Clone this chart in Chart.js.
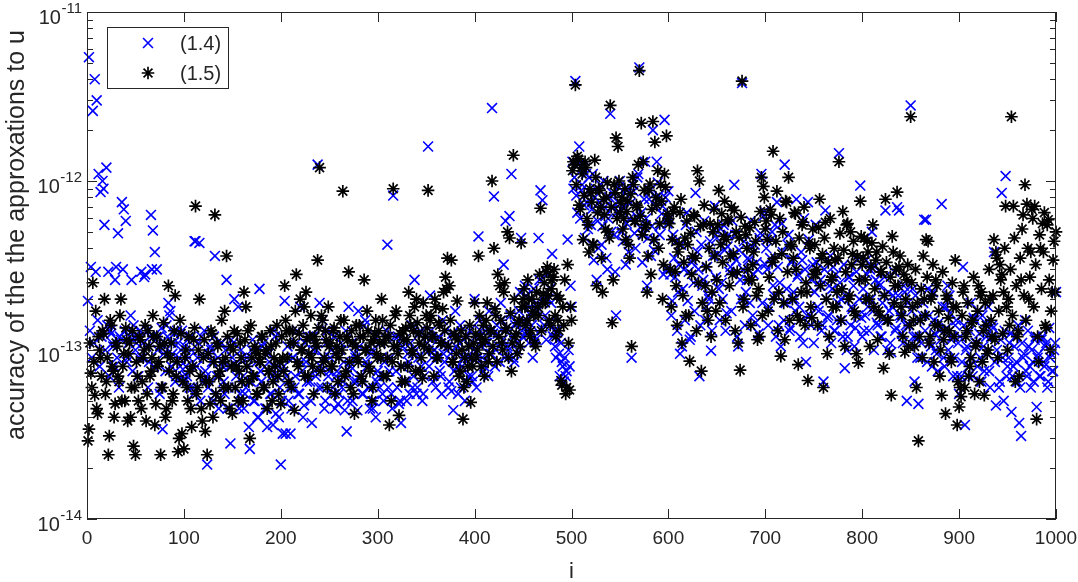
<!DOCTYPE html>
<html>
<head>
<meta charset="utf-8">
<script src="https://cdn.jsdelivr.net/npm/chart.js@4.4.1/dist/chart.umd.min.js"></script>
<style>
html,body{margin:0;padding:0;background:#ffffff;}
#wrap{width:1078px;height:582px;position:relative;}
</style>
</head>
<body>
<div id="wrap"><canvas id="c" width="1078" height="582"></canvas></div>
<script>
// ---------- data ----------
// values at even indices i = 2, 4, ..., 1000 and odd indices i = 1, 3, ..., 999
const xTickValues = [0,100,200,300,400,500,600,700,800,900,1000];
const yTickValues = [1e-14,1e-13,1e-12,1e-11];
const yTickExponents = ['-14','-13','-12','-11'];
const seriesNames = ['(1.4)','(1.5)'];
const xTitle = 'i';
const yTitle = 'accuracy of the the approxations to u';

// series (1.4), blue crosses — even i
const series14Even = [
5.4e-12,3.1e-13,2.6e-12,4e-12,3e-12,1.1e-12,8.6e-13,1e-12,5.5e-13,1.2e-12,2.9e-13,1.3e-13,1.1e-13,8e-14,3.1e-13,4.9e-13,1.2e-13,7.5e-13,6.8e-13,5.8e-13,9e-14,1.2e-13,2.6e-13,1.4e-13,1e-13,
1.2e-13,9e-14,2.9e-13,1.1e-13,2.8e-13,1.3e-13,8.5e-14,6.3e-13,5.1e-13,3.8e-13,3e-13,1.2e-13,6e-14,3.4e-14,1.05e-13,1.4e-13,1.9e-13,1.7e-13,9.5e-14,1.25e-13,7e-14,1.1e-13,8e-14,1.3e-13,6.5e-14,
8e-14,1.15e-13,6e-14,1e-13,5.5e-14,4.4e-13,9e-14,4.3e-13,1.2e-13,6.5e-14,7.5e-14,2.1e-14,9.5e-14,1e-13,5e-14,3.6e-13,7e-14,4.5e-14,1.1e-13,8e-14,5.5e-14,2.6e-13,6e-14,2.8e-14,9e-14,
2e-13,7e-14,1.8e-13,5.5e-14,9e-14,4.5e-14,6e-14,8e-14,2.6e-14,1e-13,5e-14,7e-14,4e-14,2.3e-13,6.5e-14,1.1e-13,4.5e-14,3.5e-14,8.5e-14,5.5e-14,3.6e-14,1.2e-13,7e-14,4e-14,2.1e-14,
3.2e-14,1.95e-13,7e-14,5e-14,3.2e-14,9e-14,6e-14,1.1e-13,5.5e-14,1.8e-13,7.5e-14,4.7e-14,8.5e-14,1.2e-13,6.5e-14,3.7e-14,1e-13,7e-14,1.25e-12,1.9e-13,6e-14,9e-14,5e-14,1.3e-13,7.5e-14,
1e-13,6e-14,4.5e-14,7.5e-14,5.5e-14,1.1e-13,6.5e-14,4.4e-14,3.3e-14,1.8e-13,8e-14,5e-14,9.5e-14,6.5e-14,1.7e-13,7e-14,5.5e-14,1.4e-13,8.5e-14,6e-14,4.5e-14,1e-13,5e-14,4e-14,7.5e-14,
6e-14,9e-14,5e-14,7e-14,4.2e-13,7.5e-14,5.5e-14,8.2e-13,1.2e-13,6e-14,4.8e-14,3.7e-14,1.05e-13,6.5e-14,5e-14,8.5e-14,1.1e-13,6e-14,2.6e-13,5.5e-14,9e-14,1.3e-13,5e-14,7e-14,1.2e-13,
1.6e-12,2.1e-13,9e-14,1e-13,6e-14,1.15e-13,7.5e-14,5.5e-14,9.5e-14,1.3e-13,1.05e-13,6.5e-14,5.7e-14,4.4e-14,1.7e-13,8e-14,1.1e-13,6e-14,9e-14,5e-14,1.2e-13,7e-14,1.05e-13,6.5e-14,2e-13,
6e-14,4.7e-13,1.3e-13,9e-14,8e-14,1.1e-13,7e-14,1.3e-13,2.7e-12,8.1e-13,1e-13,1.25e-13,8.5e-14,1.5e-13,3.2e-13,5.8e-13,1.05e-13,6.2e-13,1.1e-12,9e-14,1.4e-13,1e-13,1.7e-13,4.6e-13,1.2e-13,
2.4e-13,1.3e-13,1.1e-13,1.6e-13,9e-14,1.2e-13,1.9e-13,4.6e-13,8.8e-13,7.7e-13,1.4e-13,1.15e-13,2e-13,2.3e-13,3.7e-13,1.3e-13,9e-14,1.15e-13,7e-14,8.5e-14,6.5e-14,7e-14,4.5e-13,8e-14,1.8e-13,
9e-13,3.9e-12,6.5e-13,1.6e-12,8.8e-13,1.2e-12,4.6e-13,7.5e-13,1.05e-12,5.5e-13,1.1e-12,8e-13,2.6e-13,4e-13,9.5e-13,5.4e-13,7e-13,3.5e-13,6e-13,2.5e-12,8.5e-13,4.8e-13,1.6e-13,7.5e-13,1e-12,
5e-13,7e-13,3.2e-13,9e-13,6e-13,9e-14,8.7e-13,4e-13,1.05e-12,4.7e-12,6.5e-13,4.8e-13,1.3e-12,2.4e-13,7.8e-13,3.6e-13,2e-12,4.5e-13,1.3e-12,8.2e-13,5.5e-13,7.1e-13,2.3e-12,3e-13,8.7e-13,
2.8e-13,1.95e-13,3.5e-13,4.4e-13,2.2e-13,9.5e-14,1.05e-13,3e-13,5.5e-13,1.95e-13,1.15e-13,3.3e-13,2.5e-13,8.5e-13,3.8e-13,7e-14,4.2e-13,2.6e-13,1.5e-13,3.1e-13,2e-13,9.9e-14,3.6e-13,7.1e-13,4.6e-13,
2.3e-13,5.2e-13,2e-13,3.9e-13,1.65e-13,4.8e-13,3.1e-13,5.8e-13,9.5e-13,3.4e-13,1.05e-13,2.6e-13,3.8e-12,4.4e-13,2.2e-13,3.5e-13,1.9e-13,4.1e-13,2.8e-13,1.45e-13,3e-13,4.6e-13,1.1e-12,6.2e-13,3.2e-13,
3e-13,1.8e-13,4.5e-13,2.4e-13,5.5e-13,7.5e-13,1.4e-13,1.05e-13,3.8e-13,1.25e-12,2.3e-13,4.8e-13,1.35e-13,3.4e-13,2e-13,7.8e-13,2.8e-13,1.2e-13,3.4e-13,6e-13,8.5e-14,7.5e-13,1.6e-13,2.6e-13,1.1e-13,
5.5e-13,1.8e-13,2.4e-13,1.3e-13,6.5e-14,6.7e-13,1.55e-13,2.4e-13,1.1e-13,3.1e-13,1.3e-13,1.5e-13,1.46e-12,2e-13,1.2e-13,7.8e-14,1e-13,2.7e-13,1.4e-13,1.75e-13,1.05e-13,2.9e-13,1.6e-13,9.4e-13,1.2e-13,
1.3e-13,3.4e-13,1.8e-13,3e-13,5e-13,1e-13,2.6e-13,1.4e-13,2.4e-13,1.2e-13,2.1e-13,6.7e-13,1e-13,1.7e-13,9.7e-14,2.1e-13,1.3e-13,7e-13,6.7e-13,1.55e-13,1.1e-13,2.2e-13,5e-14,1.4e-13,2.8e-12,
2.3e-13,6.5e-14,1.2e-13,4.8e-14,9e-14,1.6e-13,5.9e-13,5.9e-13,2.3e-13,1.1e-13,8e-14,1.5e-13,1e-13,7.5e-14,1.3e-13,7.3e-13,9e-14,1.8e-13,2.4e-13,2.1e-13,1.15e-13,7e-14,1.4e-13,7e-14,5.5e-14,
7e-14,3.1e-13,3.6e-14,1.05e-13,8e-14,1.9e-13,7e-14,1.5e-13,1.1e-13,1.7e-13,9e-14,1.6e-13,7.5e-14,1.2e-13,1.8e-13,6e-14,1.4e-13,3.8e-13,4.7e-14,9e-14,6.5e-14,8.5e-13,5e-14,1.07e-12,8e-14,
1.1e-13,4.3e-14,8e-14,1.2e-13,6.5e-14,3.7e-14,3.1e-14,9e-14,1.5e-13,7e-14,1.05e-13,6e-14,8.5e-14,1.15e-13,4.6e-14,9.5e-14,7e-14,1.2e-13,8e-14,1.1e-13,6.5e-14,9e-14,7.5e-14,1e-13,2.2e-13
];

// series (1.4), blue crosses — odd i
const series14Odd = [
1.95e-13,1.3e-13,9e-14,1.1e-13,2.9e-13,1.5e-13,8e-14,1.2e-13,9e-13,1e-13,1.4e-13,7e-14,1.25e-13,1.05e-13,2.6e-13,9e-14,6e-14,1.15e-13,3e-13,1.3e-13,8.5e-14,1.1e-13,1.6e-13,7.5e-14,1.2e-13,
1.1e-13,7e-14,1.3e-13,9e-14,2.7e-13,1.05e-13,6e-14,1.2e-13,3e-13,8e-14,1.15e-13,1e-13,5.5e-14,1.35e-13,9.5e-14,7.5e-14,1.2e-13,1.6e-13,8e-14,1.1e-13,6.5e-14,1.3e-13,9e-14,1e-13,7e-14,
1.05e-13,7e-14,9e-14,1.2e-13,6e-14,4.4e-13,8e-14,1.1e-13,5e-14,9.5e-14,1.3e-13,7e-14,6e-14,1.05e-13,8.5e-14,1.2e-13,5.5e-14,9e-14,7.5e-14,1.1e-13,6.5e-14,1e-13,4.5e-14,8e-14,1.15e-13,
1.1e-13,6e-14,8e-14,4.5e-14,1e-13,7e-14,5.5e-14,9e-14,3.5e-14,6.5e-14,1.15e-13,5e-14,8.5e-14,4e-14,7.5e-14,1.05e-13,6e-14,4.5e-14,9.5e-14,5.5e-14,7e-14,1.3e-13,4.2e-14,8e-14,6e-14,
5e-14,8e-14,3.2e-14,1.05e-13,6e-14,4.5e-14,9e-14,7e-14,1.3e-13,5.5e-14,8.5e-14,4e-14,1.1e-13,6.5e-14,9.5e-14,5e-14,1.2e-13,7.5e-14,1e-13,6e-14,8e-14,1.5e-13,4.5e-14,1.1e-13,7e-14,
9e-14,5.5e-14,1.2e-13,7e-14,4.8e-14,1e-13,6e-14,8.5e-14,1.3e-13,5e-14,7.5e-14,1.1e-13,6.5e-14,9e-14,4.4e-14,1.05e-13,7e-14,5.5e-14,1.5e-13,8e-14,6e-14,9.5e-14,4.5e-14,1.2e-13,6.5e-14,
7e-14,1.1e-13,5.5e-14,8.5e-14,1.3e-13,6e-14,9e-14,4.5e-14,1.05e-13,7.5e-14,1.2e-13,5e-14,8e-14,1.15e-13,6.5e-14,9.5e-14,5.5e-14,1.4e-13,7e-14,1e-13,6e-14,1.25e-13,8e-14,5.5e-14,1e-13,
1.1e-13,8e-14,1.3e-13,6.5e-14,1e-13,9e-14,1.2e-13,7e-14,1.5e-13,8.5e-14,1.1e-13,6e-14,9.5e-14,1.25e-13,7.5e-14,1.05e-13,5.5e-14,1.4e-13,8e-14,1.15e-13,6.5e-14,9e-14,1.3e-13,7e-14,1e-13,
1.2e-13,9e-14,1.5e-13,1.05e-13,7.5e-14,1.3e-13,1.1e-13,1.7e-13,9.5e-14,1.25e-13,8e-14,1.4e-13,1.05e-13,1.9e-13,1.15e-13,9e-14,1.35e-13,1e-13,1.6e-13,1.2e-13,8.5e-14,1.45e-13,1.1e-13,2.2e-13,1.3e-13,
1.5e-13,2.1e-13,1.25e-13,1.8e-13,1.4e-13,2.3e-13,1.15e-13,1.7e-13,2.6e-13,1.35e-13,2e-13,1.6e-13,2.8e-13,1.45e-13,1.9e-13,1.2e-13,1.05e-13,1.3e-13,9.5e-14,1.1e-13,8e-14,9e-14,7.5e-14,1e-13,2.4e-13,
1.3e-12,1.05e-12,8.2e-13,1.25e-12,6e-13,9.5e-13,7.2e-13,1.1e-12,5.2e-13,8.5e-13,6.8e-13,3.4e-13,9e-13,5.8e-13,7.5e-13,4.2e-13,1e-12,6.2e-13,3e-13,8e-13,5e-13,7e-13,2.9e-13,6.5e-13,9.2e-13,
6.8e-13,4.4e-13,8.5e-13,5.6e-13,3.8e-13,7.4e-13,9.5e-13,4.9e-13,6.2e-13,1.1e-12,5.3e-13,3.3e-13,7.8e-13,6e-13,4.6e-13,8.8e-13,5.4e-13,3.9e-13,7e-13,9.8e-13,4.8e-13,6.4e-13,2.8e-13,8e-13,5.6e-13,
6e-13,1.6e-13,4.8e-13,2.7e-13,1.3e-13,3.2e-13,4.2e-13,2.3e-13,1.5e-13,6.5e-13,2.9e-13,1.2e-13,3.4e-13,1.7e-13,5e-13,3e-13,1.4e-13,2.4e-13,5.8e-13,1.8e-13,2.1e-13,4.4e-13,1.3e-13,5.2e-13,2.7e-13,
3.7e-13,1.5e-13,2.5e-13,5.5e-13,1.3e-13,4.1e-13,2.9e-13,1.7e-13,3.6e-13,4.8e-13,1.2e-13,3.9e-13,2e-13,3e-13,1.4e-13,2.6e-13,3.4e-13,5.8e-13,1.6e-13,4.2e-13,3.3e-13,1.25e-13,4.9e-13,1.9e-13,6.6e-13,
4e-13,1.4e-13,3.5e-13,5e-13,2.1e-13,1.2e-13,3.1e-13,2.5e-13,5.6e-13,1.5e-13,1.9e-13,4.2e-13,1.3e-13,3.3e-13,2.2e-13,1.7e-13,2.7e-13,1.8e-13,3.8e-13,1.1e-13,3e-13,1.6e-13,4.5e-13,1.4e-13,3.2e-13,
2.2e-13,3.3e-13,1.7e-13,2.6e-13,1.4e-13,3e-13,2e-13,1.6e-13,3.6e-13,2.3e-13,1.3e-13,2.8e-13,1.9e-13,2.5e-13,1.5e-13,3.2e-13,2.1e-13,1.2e-13,2.7e-13,1.8e-13,2.4e-13,1.35e-13,3.4e-13,2e-13,1.55e-13,
2.3e-13,1.6e-13,2.8e-13,1.3e-13,2e-13,1.7e-13,3.1e-13,1.45e-13,2.5e-13,1.2e-13,1.9e-13,2.7e-13,1.5e-13,2.2e-13,1.1e-13,1.8e-13,2.9e-13,1.35e-13,2.1e-13,1.6e-13,1.25e-13,2.4e-13,1.4e-13,1.9e-13,1.05e-13,
1.7e-13,1.2e-13,2.1e-13,9e-14,1.5e-13,1.1e-13,1.9e-13,1.3e-13,8.5e-14,1.6e-13,1.05e-13,2.2e-13,1.25e-13,9.5e-14,1.45e-13,1.15e-13,1.8e-13,8e-14,1.35e-13,1e-13,1.65e-13,1.2e-13,9e-14,1.5e-13,1.1e-13,
1.2e-13,8.5e-14,1.4e-13,1e-13,7e-14,1.3e-13,9e-14,1.55e-13,1.1e-13,8e-14,1.25e-13,6.5e-14,1.05e-13,1.45e-13,9.5e-14,7.5e-14,1.2e-13,1.35e-13,8.5e-14,1e-13,6e-14,1.15e-13,9e-14,1.3e-13,7e-14,
9e-14,1.25e-13,7e-14,1.05e-13,8.5e-14,1.4e-13,6e-14,1.1e-13,9.5e-14,7.5e-14,1.3e-13,8e-14,1e-13,6.5e-14,1.2e-13,9e-14,7e-14,1.15e-13,8.5e-14,1.05e-13,6e-14,1.35e-13,9.5e-14,7.5e-14,1.1e-13
];

// series (1.5), black asterisks — even i
const series15Even = [
3.4e-14,7.3e-14,2.5e-13,5.4e-14,4.5e-14,1.2e-13,9e-14,1.3e-13,2e-13,6.5e-14,2.4e-14,1.5e-13,8e-14,4e-14,1.1e-13,7e-14,1.6e-13,5e-14,9.5e-14,1.35e-13,3.8e-14,1.1e-13,6e-14,2.7e-14,2.4e-14,
7e-14,1.2e-13,4.5e-14,9e-14,1.4e-13,5.5e-14,1.05e-13,7.5e-14,1.6e-13,3.6e-14,1.2e-13,8.5e-14,2.4e-14,6e-14,1.1e-13,4.5e-14,2.4e-13,9e-14,5e-14,1.3e-13,7e-14,2.5e-14,1.5e-13,3.2e-14,2.6e-14,
1e-13,5e-14,7.5e-14,3.5e-14,1.15e-13,7.1e-13,6e-14,2e-13,4.5e-14,9e-14,3.3e-14,2.4e-14,6.5e-14,1.3e-13,4e-14,6.3e-13,1.1e-13,7e-14,5e-14,8.5e-14,1.7e-13,3.6e-13,6e-14,1.05e-13,4.2e-14,
1.3e-13,8e-14,5e-14,1.1e-13,6.5e-14,2.2e-13,1.8e-13,1.3e-13,3e-14,9e-14,7e-14,1e-13,5.5e-14,8.5e-14,1.2e-13,6e-14,9.5e-14,4.5e-14,7.5e-14,1.05e-13,6.5e-14,8e-14,1.4e-13,5.5e-14,4.8e-14,
9e-14,2.4e-13,1.3e-13,6.5e-14,1.1e-13,1.3e-13,4.4e-14,2.8e-13,8e-14,2e-13,1e-13,1.8e-13,2.2e-13,7e-14,1.2e-13,9e-14,5.5e-14,1.1e-13,3.4e-13,1.2e-12,1.6e-13,8.5e-14,1.3e-13,6e-14,1.05e-13,
8e-14,1.3e-13,5.5e-14,1.05e-13,9e-14,1.5e-13,8.7e-13,7e-14,1.2e-13,2.9e-13,6e-14,1.1e-13,4.2e-14,1.4e-13,8.5e-14,1.2e-13,6.5e-14,2.6e-13,1e-13,1.3e-13,7.5e-14,5e-14,1.15e-13,1.5e-13,9e-14,
1.1e-13,2e-13,7e-14,1.2e-13,9e-14,3.6e-14,5e-14,9e-13,1.6e-13,1.05e-13,4.1e-14,8e-14,1.3e-13,6.5e-14,1.15e-13,2.2e-13,1.4e-13,9.5e-14,1.8e-13,2e-13,1.25e-13,7.5e-14,6.8e-14,1.05e-13,1.6e-13,
8.8e-13,1.5e-13,1.2e-13,7e-14,1.8e-13,9e-14,1.4e-13,1.1e-13,2.2e-13,2.7e-13,3.5e-13,2.4e-13,3.4e-13,8.5e-14,1.2e-13,1.95e-13,7e-14,1.3e-13,3.9e-14,9e-14,6.5e-14,1.05e-13,4.9e-14,8e-14,1.9e-13,
9e-14,3.6e-13,1.2e-13,1.1e-13,7e-14,1.5e-13,8.5e-14,1.3e-13,1e-12,4e-13,1.6e-13,2.8e-13,2.4e-13,1.1e-13,2.2e-13,1.3e-13,5e-13,4.6e-13,7.5e-14,1.42e-12,1.2e-13,9.5e-14,1.5e-13,4.3e-13,2e-13,
1.8e-13,1.5e-13,2e-13,1.3e-13,1.7e-13,1.1e-13,2.2e-13,1.6e-13,6.9e-13,1.9e-13,2.5e-13,2.9e-13,2.1e-13,1.4e-13,2.6e-13,3e-13,1.2e-13,1.5e-13,2e-13,6.2e-14,1.4e-13,5.5e-14,3.2e-13,5.8e-14,1.5e-13,
1.3e-12,3.7e-12,1.4e-12,7.2e-13,1.2e-12,4.5e-13,1.3e-12,6e-13,3.8e-13,8.5e-13,4.2e-13,1.33e-12,2.4e-13,9e-13,7e-13,2.2e-13,6.3e-13,8e-13,5e-13,2.8e-12,1.45e-13,9.5e-13,1.8e-12,1.6e-12,6.5e-13,
8e-13,6e-13,4.5e-13,7.6e-13,3.5e-13,1.05e-13,9.5e-13,5.8e-13,7e-13,4.5e-12,2.2e-12,1.3e-12,5.3e-13,2.2e-13,8.8e-13,2.8e-13,2.25e-12,1.7e-12,7.2e-13,4e-13,9.5e-13,2e-13,1.1e-12,1.85e-12,6e-13,
3e-13,4.5e-13,7e-13,2.4e-13,3.8e-13,6.5e-13,1.1e-13,3.3e-13,1.6e-13,4.2e-13,8.6e-14,2.8e-13,6.3e-13,3.5e-13,1.15e-12,1e-12,7.5e-14,5.5e-13,2.4e-13,1.7e-13,4e-13,1.2e-13,5e-13,3.6e-13,2.6e-13,
8.8e-13,4.2e-13,3.3e-13,7.6e-13,4.5e-13,5.8e-13,3.6e-13,2.8e-13,6.7e-13,5e-13,1.1e-13,7.6e-14,3.9e-12,2e-13,4.8e-13,3e-13,5.3e-13,2.6e-13,3.8e-13,4.4e-13,1.15e-13,1.2e-13,1.05e-12,9.3e-13,5.2e-13,
4.5e-13,2.7e-13,6.3e-13,1.5e-12,3.5e-13,8.7e-13,2.2e-13,9.2e-14,5e-13,1.15e-13,7.5e-13,1.05e-12,4.2e-13,2e-13,6.5e-13,3e-13,8.2e-14,1.5e-13,5.5e-13,7e-13,2.5e-13,6.6e-14,4e-13,1.55e-13,2.8e-13,
2.8e-13,1.4e-13,7.8e-13,3.5e-13,6e-14,5.7e-13,9.5e-14,1.2e-13,2.6e-13,1.8e-13,3.4e-13,2.2e-13,1.3e-12,1.5e-13,6.6e-13,1.05e-13,5.5e-13,2e-13,5e-13,3.7e-13,1.7e-13,9.5e-14,8.4e-14,7.6e-13,3.2e-13,
4.6e-13,2e-13,3.8e-13,1.05e-13,4.3e-13,1.8e-13,3.4e-13,1.15e-13,1.6e-13,2.9e-13,7.8e-14,7.8e-13,1.5e-13,9.5e-14,5.4e-14,3.8e-13,2.4e-13,8.6e-13,3.1e-13,1.8e-13,1.2e-13,9.7e-14,2.6e-13,1.05e-13,2.4e-12,
1.8e-13,1.05e-13,6e-14,2.9e-14,1.5e-13,9e-14,2e-13,4.5e-13,4.4e-13,1.2e-13,2.1e-13,8.5e-14,2.6e-13,1.4e-13,7e-14,5.4e-14,1.15e-13,4.2e-14,2e-13,1.3e-13,8.5e-14,1.8e-13,3.4e-13,3.6e-14,4.6e-14,
5.3e-14,2.2e-13,6e-14,1.3e-13,7e-14,9e-14,1.5e-13,5.5e-14,1.1e-13,2.4e-13,2.1e-13,8.5e-14,5.4e-14,1.4e-13,1e-13,2e-13,1.2e-13,4.5e-13,3.8e-13,9e-14,3.2e-13,2.8e-13,2.2e-13,7.1e-13,1e-13,
1.4e-13,2.4e-12,7.1e-13,6.5e-14,1.2e-13,7e-14,2.6e-13,6.3e-13,9.5e-13,7.3e-13,2e-13,3.8e-13,6e-13,7.1e-13,3.9e-14,8.5e-14,4e-13,5.6e-13,6.5e-13,1.35e-13,5.9e-13,1e-13,2.2e-13,4.4e-13,5e-13
];

// series (1.5), black asterisks — odd i
const series15Odd = [
2.9e-14,1.1e-13,6e-14,8.5e-14,1.7e-13,4.2e-14,1e-13,7e-14,1.25e-13,5.5e-14,9e-14,3.1e-14,1.4e-13,7.5e-14,4.8e-14,1.05e-13,6.5e-14,2e-13,8e-14,5e-14,1.15e-13,9.5e-14,4e-14,1.3e-13,6e-14,
8.5e-14,5e-14,1.15e-13,6.5e-14,1e-13,3.8e-14,1.3e-13,7e-14,9e-14,1.2e-13,4.8e-14,8e-14,1.05e-13,6e-14,1.45e-13,4e-14,9.5e-14,7.5e-14,1.1e-13,5.5e-14,2.1e-13,8.5e-14,3e-14,1.25e-13,6.5e-14,
9e-14,6e-14,1.2e-13,4.5e-14,8e-14,1.35e-13,5.5e-14,1e-13,7e-14,3.8e-14,1.15e-13,6.5e-14,9.5e-14,4.8e-14,1.25e-13,8.5e-14,5.5e-14,1.05e-13,7.5e-14,1.5e-13,6e-14,9e-14,1.2e-13,4.5e-14,8e-14,
1e-13,6e-14,1.25e-13,7.5e-14,9e-14,5e-14,1.15e-13,8e-14,6.5e-14,1.4e-13,7e-14,1.05e-13,5.5e-14,9.5e-14,8.5e-14,1.2e-13,6e-14,1e-13,7.5e-14,1.3e-13,5e-14,9e-14,1.1e-13,7e-14,8.5e-14,
1.2e-13,7.5e-14,1.5e-13,9e-14,1.3e-13,6e-14,1.1e-13,1.7e-13,8.5e-14,1.25e-13,1e-13,1.4e-13,7e-14,1.15e-13,9.5e-14,1.6e-13,8e-14,1.2e-13,1.05e-13,1.35e-13,7.5e-14,1.5e-13,9e-14,1.15e-13,1.8e-13,
1.1e-13,8e-14,1.35e-13,9.5e-14,6.5e-14,1.2e-13,1e-13,1.5e-13,7.5e-14,1.15e-13,8.5e-14,1.3e-13,5.5e-14,1.05e-13,9e-14,1.4e-13,7e-14,1.2e-13,1e-13,1.7e-13,8e-14,1.1e-13,6e-14,1.25e-13,9.5e-14,
1.3e-13,9e-14,1.5e-13,1.1e-13,7e-14,1.2e-13,1.4e-13,8.5e-14,1.05e-13,1.7e-13,9.5e-14,1.25e-13,6.5e-14,1.15e-13,1.35e-13,8e-14,1.6e-13,1e-13,1.3e-13,7.5e-14,1.45e-13,1.1e-13,9e-14,1.9e-13,1.2e-13,
1.35e-13,1e-13,1.6e-13,1.2e-13,2e-13,9e-14,1.45e-13,1.1e-13,1.75e-13,1.3e-13,2.3e-13,1.05e-13,1.5e-13,8.5e-14,1.25e-13,9.5e-14,1.15e-13,7.5e-14,1e-13,6e-14,1.2e-13,8e-14,1.4e-13,9e-14,1.1e-13,
1.25e-13,1e-13,1.6e-13,8e-14,1.4e-13,1.15e-13,1.9e-13,9.5e-14,1.3e-13,1.05e-13,1.75e-13,8.5e-14,1.2e-13,1.5e-13,1e-13,2.5e-13,1.35e-13,9e-14,1.65e-13,1.1e-13,2e-13,1.25e-13,1.45e-13,1.05e-13,1.8e-13,
2.3e-13,1.4e-13,2.6e-13,1.2e-13,2e-13,1.6e-13,1.05e-13,1.8e-13,2.8e-13,1.3e-13,2.15e-13,1.9e-13,3.1e-13,1.5e-13,2.3e-13,2.7e-13,1.6e-13,2.1e-13,1.3e-13,6.6e-14,1.8e-13,2.6e-13,6e-14,1.1e-13,1.8e-13,
1.15e-12,1.25e-12,9.5e-13,1.35e-12,6.8e-13,1.1e-12,8.2e-13,1.2e-12,5.5e-13,9e-13,7.5e-13,4.2e-13,1.05e-12,6.5e-13,8.8e-13,3.5e-13,7.8e-13,5.2e-13,9.8e-13,4.6e-13,7e-13,2.6e-13,8.5e-13,6e-13,1e-12,
7.4e-13,5.2e-13,9e-13,6.6e-13,4.2e-13,8.4e-13,1.05e-12,5.8e-13,7.2e-13,1.25e-12,6.2e-13,4.8e-13,8.8e-13,5.5e-13,3.6e-13,9.6e-13,6.8e-13,4.5e-13,8e-13,1.15e-12,5.6e-13,7.6e-13,3.2e-13,9.2e-13,6.4e-13,
5.6e-13,1.8e-13,6.6e-13,2.9e-13,1.4e-13,4.2e-13,7.8e-13,2.1e-13,4.6e-13,5.8e-13,1.6e-13,4.9e-13,3.6e-13,6.2e-13,1.3e-13,2.5e-13,5.4e-13,1.9e-13,7.2e-13,3.1e-13,1.5e-13,5.6e-13,2.2e-13,6.8e-13,1.7e-13,
5.5e-13,1.9e-13,6.4e-13,4.7e-13,1.5e-13,5.9e-13,2.4e-13,7e-13,3.7e-13,1.3e-13,2.9e-13,4.6e-13,6.1e-13,1.8e-13,5.4e-13,4e-13,2.6e-13,1.4e-13,3.2e-13,5.7e-13,2.1e-13,2.3e-13,6.6e-13,1.6e-13,8e-13,
5.8e-13,1.7e-13,6.8e-13,3.3e-13,2e-13,4.4e-13,1.3e-13,6e-13,3.7e-13,1.9e-13,7.6e-13,2.9e-13,1.5e-13,4.1e-13,3.5e-13,6.4e-13,1.6e-13,4.6e-13,2.2e-13,5.7e-13,1.4e-13,2.2e-13,4.3e-13,1.8e-13,5.2e-13,
4.2e-13,3e-13,5.3e-13,2.4e-13,3.7e-13,4.6e-13,2e-13,3.3e-13,6e-13,2.7e-13,4e-13,1.8e-13,3.5e-13,4.9e-13,2.3e-13,3.9e-13,2.9e-13,5.6e-13,2.1e-13,3.2e-13,4.4e-13,1.6e-13,3.6e-13,2.6e-13,4.7e-13,
3.5e-13,2.6e-13,4.4e-13,2e-13,3.1e-13,5.5e-13,2.3e-13,3.8e-13,1.7e-13,2.9e-13,4.1e-13,2.1e-13,3.3e-13,1.5e-13,2.7e-13,4.7e-13,1.9e-13,3e-13,2.4e-13,3.6e-13,1.6e-13,2.8e-13,2e-13,3.2e-13,1.4e-13,
2.5e-13,1.5e-13,3e-13,1.9e-13,1.2e-13,2.3e-13,3.6e-13,1.6e-13,2.7e-13,1.1e-13,2e-13,3.2e-13,1.4e-13,2.4e-13,1.7e-13,1e-13,2.9e-13,1.3e-13,2.1e-13,1.55e-13,9e-14,2.5e-13,1.2e-13,1.8e-13,6.5e-14,
6e-14,1.6e-13,2.4e-13,1.2e-13,1.9e-13,8e-14,1.45e-13,2.7e-13,1.05e-13,1.7e-13,6.5e-14,2.2e-13,1.3e-13,1.9e-13,9.5e-14,3e-13,1.5e-13,2.1e-13,1.15e-13,3.5e-13,1.7e-13,2.6e-13,1.25e-13,4e-13,1.8e-13,
2e-13,3e-13,1.6e-13,4.6e-13,2.4e-13,1.3e-13,3.5e-13,5.2e-13,2.1e-13,1.5e-13,4e-13,2.7e-13,6.8e-13,1.8e-13,3.2e-13,1.2e-13,4.8e-13,2.3e-13,3.8e-13,1.4e-13,5.5e-13,2.6e-13,1.7e-13,3.4e-13,2.2e-13
];

// ---------- chart ----------
const FONT = '"Liberation Sans", Arial, Helvetica, sans-serif';
const AXIS_COLOR = '#262626';
const toPoints = (even, odd) => {
  const pts = [];
  odd.forEach((v, k) => pts.push({ x: 2 * k + 1, y: v }));
  even.forEach((v, k) => pts.push({ x: 2 * k + 2, y: v }));
  return pts.sort((p, q) => p.x - q.x);
};

const matlabAxes = {
  id: 'matlabAxes',
  afterDatasetsDraw(chart) {
    const ctx = chart.ctx;
    const a = chart.chartArea;
    const xs = chart.scales.x, ys = chart.scales.y;
    ctx.save();
    ctx.strokeStyle = AXIS_COLOR;
    ctx.lineWidth = 1;
    // box
    ctx.strokeRect(Math.round(a.left) + 0.5, Math.round(a.top) + 0.5,
                   Math.round(a.right - a.left) - 1, Math.round(a.bottom - a.top) - 1);
    ctx.beginPath();
    // x ticks (bottom and top, inward)
    xTickValues.forEach(v => {
      const px = Math.round(xs.getPixelForValue(v)) + 0.5;
      ctx.moveTo(px, a.bottom); ctx.lineTo(px, a.bottom - 10);
      ctx.moveTo(px, a.top); ctx.lineTo(px, a.top + 10);
    });
    // y ticks, major + minor (left and right, inward)
    yTickValues.forEach((v, k) => {
      const py = Math.round(ys.getPixelForValue(v)) + 0.5;
      ctx.moveTo(a.left, py); ctx.lineTo(a.left + 10, py);
      ctx.moveTo(a.right, py); ctx.lineTo(a.right - 10, py);
      if (k < yTickValues.length - 1) {
        for (let m = 2; m <= 9; m++) {
          const pm = Math.round(ys.getPixelForValue(v * m)) + 0.5;
          ctx.moveTo(a.left, pm); ctx.lineTo(a.left + 6, pm);
          ctx.moveTo(a.right, pm); ctx.lineTo(a.right - 6, pm);
        }
      }
    });
    ctx.stroke();

    // y tick labels 10^n
    ctx.fillStyle = AXIS_COLOR;
    yTickValues.forEach((v, k) => {
      const py = ys.getPixelForValue(v);
      ctx.font = '15px ' + FONT;
      const sup = yTickExponents[k];
      const supW = ctx.measureText(sup).width;
      const right = a.left - 5;
      ctx.textAlign = 'left'; ctx.textBaseline = 'alphabetic';
      ctx.fillText(sup, right - supW, py + 1);
      ctx.font = '20px ' + FONT;
      ctx.textAlign = 'right';
      ctx.fillText('10', right - supW - 0.5, py + 12);
    });

    // y title
    ctx.save();
    ctx.translate(17, 235);
    ctx.rotate(-Math.PI / 2);
    ctx.font = '25px ' + FONT;
    ctx.textAlign = 'center'; ctx.textBaseline = 'middle';
    ctx.fillText(yTitle, 0, 0);
    ctx.restore();

    // x title
    ctx.font = '22px ' + FONT;
    ctx.textAlign = 'center'; ctx.textBaseline = 'middle';
    ctx.fillText(xTitle, (a.left + a.right) / 2, 572);

    // legend
    const lx = 107.5, ly = 27.5, lw = 121, lh = 61;
    ctx.fillStyle = '#ffffff';
    ctx.fillRect(lx, ly, lw, lh);
    ctx.strokeStyle = AXIS_COLOR;
    ctx.lineWidth = 1;
    ctx.strokeRect(lx, ly, lw, lh);
    const ds = chart.data.datasets;
    [43, 73].forEach((yy, k) => {
      const d = ds[k];
      const cx = 148, r = d.pointRadius;
      ctx.strokeStyle = d.borderColor; ctx.lineWidth = d.borderWidth;
      ctx.beginPath();
      const o = r * Math.SQRT1_2;
      ctx.moveTo(cx - o, yy - o); ctx.lineTo(cx + o, yy + o);
      ctx.moveTo(cx - o, yy + o); ctx.lineTo(cx + o, yy - o);
      if (d.pointStyle === 'star') {
        ctx.moveTo(cx - r, yy); ctx.lineTo(cx + r, yy);
        ctx.moveTo(cx, yy - r); ctx.lineTo(cx, yy + r);
      }
      ctx.stroke();
      ctx.fillStyle = AXIS_COLOR;
      ctx.font = '20px ' + FONT;
      ctx.textAlign = 'left'; ctx.textBaseline = 'middle';
      ctx.fillText(seriesNames[k], 180, yy + 1);
    });
    ctx.restore();
  }
};

new Chart(document.getElementById('c'), {
  type: 'scatter',
  data: {
    datasets: [
      { label: seriesNames[0], data: toPoints(series14Even, series14Odd), pointStyle: 'crossRot', pointRadius: 7,
        borderColor: '#0000ff', backgroundColor: '#0000ff', borderWidth: 1.6, order: 2, clip: false },
      { label: seriesNames[1], data: toPoints(series15Even, series15Odd), pointStyle: 'star', pointRadius: 6.3,
        borderColor: '#000000', backgroundColor: '#000000', borderWidth: 1.7, order: 1, clip: false }
    ]
  },
  options: {
    responsive: false,
    animation: false,
    devicePixelRatio: 1,
    events: [],
    layout: { padding: { left: 0, right: 22, top: 12, bottom: 0 } },
    plugins: { legend: { display: false }, tooltip: { enabled: false } },
    scales: {
      x: {
        type: 'linear', min: 0, max: 1000, position: 'bottom',
        grid: { display: false, drawTicks: false }, border: { display: false },
        afterBuildTicks: s => { s.ticks = xTickValues.map(v => ({ value: v })); },
        ticks: { color: AXIS_COLOR, font: { family: FONT, size: 19 }, padding: 8, maxRotation: 0, autoSkip: false,
                 callback: v => String(v) },
        afterFit: s => { s.height = 63; s.paddingLeft = 0; s.paddingRight = 0; }
      },
      y: {
        type: 'logarithmic', min: 1e-14, max: 1e-11, position: 'left',
        grid: { display: false, drawTicks: false }, border: { display: false },
        afterBuildTicks: s => { s.ticks = yTickValues.map(v => ({ value: v, major: true })); },
        ticks: { display: false },
        afterFit: s => { s.width = 87; s.paddingTop = 0; s.paddingBottom = 0; }
      }
    }
  },
  plugins: [matlabAxes]
});
</script>
</body>
</html>
